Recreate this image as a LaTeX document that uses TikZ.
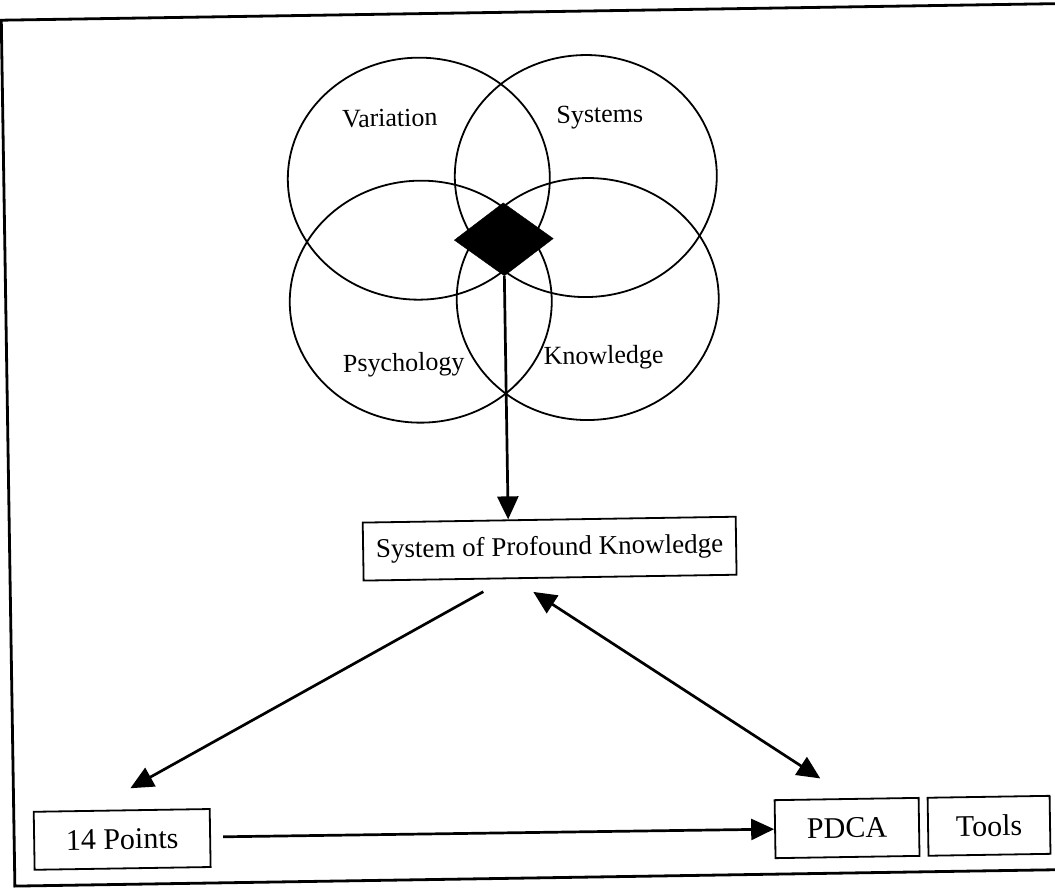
\documentclass[tikz,border=0pt]{standalone}
\usepackage{fontspec}
\setmainfont{Liberation Serif}
\usetikzlibrary{arrows.meta,shapes.geometric}
\begin{document}
\begin{tikzpicture}[x=1pt,y=-1pt,
  ring/.style={draw, ellipse, line width=1.8pt, minimum width=262pt, minimum height=242pt, inner sep=0pt},
  tag/.style={font=\fontsize{26}{31}\selectfont, inner sep=0pt},
  box/.style={draw, line width=1.8pt, minimum height=58pt, inner sep=0pt, font=\fontsize{27}{32}\selectfont},
  lowbox/.style={box, font=\fontsize{30}{36}\selectfont},
  link/.style={line width=2.7pt, -{Triangle[length=23pt,width=21pt]}},
  twoway/.style={line width=2.7pt, {Triangle[length=23pt,width=21pt]}-{Triangle[length=23pt,width=21pt]}},
]
\useasboundingbox (0,0) rectangle (1055,888);
\clip (0,0) rectangle (1055,888);
\begin{scope}[rotate around={0.9:(527,444)}, transform shape]
  % outer frame, open on the right
  \draw[line width=2.8pt] (1120,12) -- (8,12) -- (8,878) -- (1120,878);

  % the four overlapping areas
  \node[ring] (var) at (423,177) {};
  \node[ring] (sys) at (590,177) {};
  \node[ring] (psy) at (423,300) {};
  \node[ring] (kno) at (590,300) {};
  \node[tag] (lvar) at (395,116) {Variation};
  \node[tag] (lsys) at (605,118) {Systems};
  \node[tag] (lpsy) at (405,363) {Psychology};
  \node[tag] (lkno) at (605,359) {Knowledge};

  % centre diamond
  \node[diamond, draw, fill=black, minimum width=99pt, minimum height=73pt, inner sep=0pt] (core) at (507,239) {};

  % boxes
  \node[box, minimum width=373pt] (sopk) at (548,549) {System of Profound Knowledge};
  \node[lowbox, minimum width=176pt] (pts) at (116,833) {14 Points};
  \node[lowbox, minimum width=144pt] (pdca) at (841,833) {PDCA};
  \node[lowbox, minimum width=122pt] (tools) at (983,833) {Tools};

  % connector end points
  \coordinate (s1) at (481,591);
  \coordinate (t1) at (125,782);
  \coordinate (s2) at (531,592);
  \coordinate (t2) at (815,783);
  \coordinate (s3) at (217,832);

  % connectors
  \draw[link] (core.south) -- (core.south |- sopk.north);
  \draw[link] (s1) -- (t1);
  \draw[twoway] (s2) -- (t2);
  \draw[link] (s3) -- (pdca.west);
\end{scope}
\end{tikzpicture}
\end{document}
